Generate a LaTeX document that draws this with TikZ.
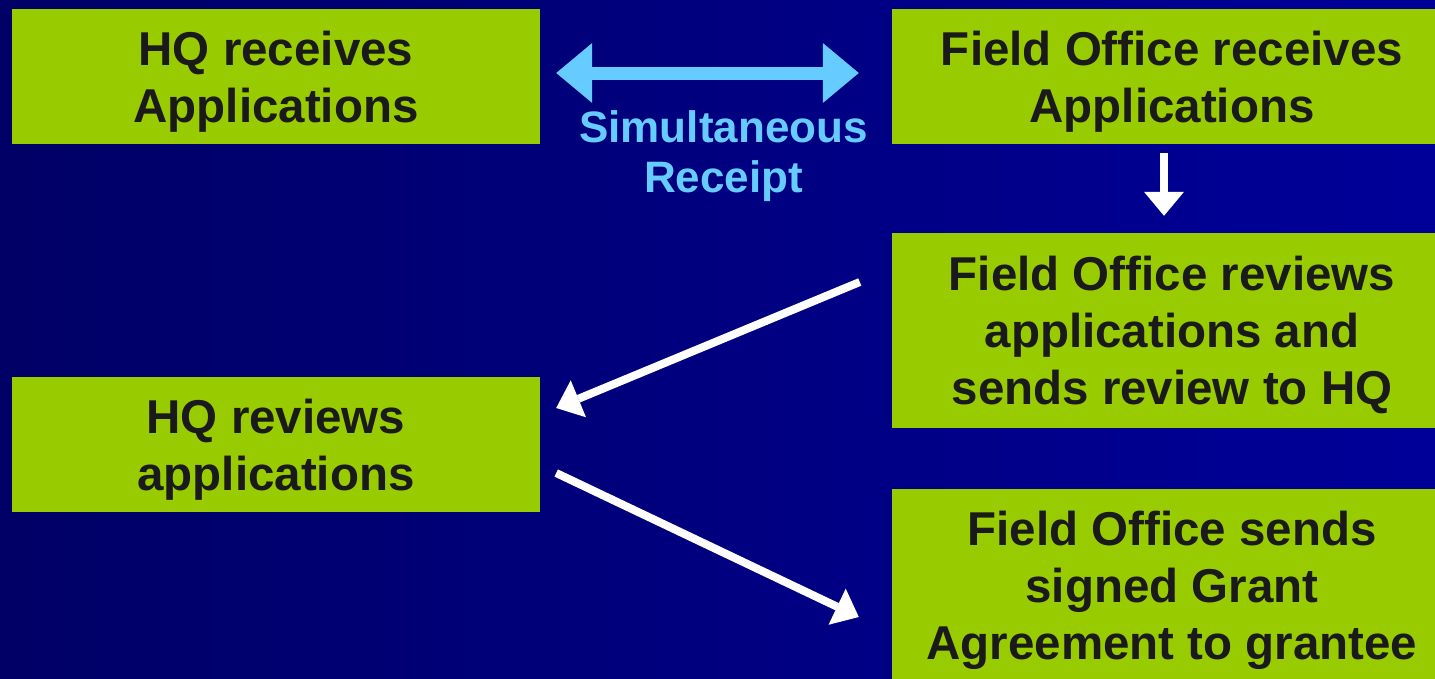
\documentclass[tikz,border=0pt]{standalone}
\usepackage{fontspec}
\setmainfont{Liberation Sans}
\usetikzlibrary{arrows.meta,calc}

\definecolor{boxgreen}{HTML}{99CC00}
\definecolor{receiptblue}{HTML}{66CCFF}
\definecolor{navyleft}{HTML}{000066}
\definecolor{navyright}{HTML}{000099}
\definecolor{boxtext}{HTML}{1A1A1A}

\newcommand{\topgap}{\rule{0pt}{44pt}}

\begin{document}
\begin{tikzpicture}[x=1pt,y=-1pt,
                    box/.style={fill=boxgreen,draw=none,text=boxtext,align=center,inner sep=0pt,
                                font=\fontsize{47.5}{57}\selectfont\bfseries},
                    flow/.style={draw=white,line width=8pt,
                                 -{Triangle[length=24pt,width=40pt,line width=0pt]}},
                    receipt/.style={draw=receiptblue,line width=13pt,
                                    {Triangle[length=36pt,width=60pt,line width=0pt]}-{Triangle[length=36pt,width=60pt,line width=0pt]}}]
  \useasboundingbox (0,0) rectangle (1435,678);
  \shade[left color=navyleft,right color=navyright] (0,0) rectangle (1435,678);
  \clip (0,0) rectangle (1435,678);

  \node[box,minimum width=528,minimum height=135] (hqrec)  at (276,76.5)  {\topgap HQ receives\\Applications};
  \node[box,minimum width=560,minimum height=135] (forec)  at (1172,76.5) {\topgap Field Office receives\\Applications};
  \node[box,minimum width=560,minimum height=195] (forev)  at (1172,330.5) {\topgap Field Office reviews\\applications and\\sends review to HQ};
  \node[box,minimum width=528,minimum height=135] (hqrev)  at (276,444.5) {\topgap HQ reviews\\applications};
  \node[box,minimum width=560,minimum height=194] (fosend) at (1172,586)  {\topgap Field Office sends\\signed Grant\\Agreement to grantee};

  \draw[receipt] ($(hqrec.east)+(16,-3.5)$) -- ($(forec.west)+(-33,-3.5)$);
  \node[text=receiptblue,align=center,font=\fontsize{44}{50}\selectfont\bfseries] (simrec) at (723.5,156)
    {Simultaneous\\Receipt};

  \draw[flow] ($(forec.south)+(-8,9)$) -- ($(forev.north)+(-8,-17)$);
  \draw[flow] ($(forev.west)+(-32,-48.5)$) -- ($(hqrev.east)+(16,-36.5)$);
  \draw[flow] ($(hqrev.east)+(16,28.5)$) -- ($(fosend.west)+(-33,31)$);
\end{tikzpicture}
\end{document}
